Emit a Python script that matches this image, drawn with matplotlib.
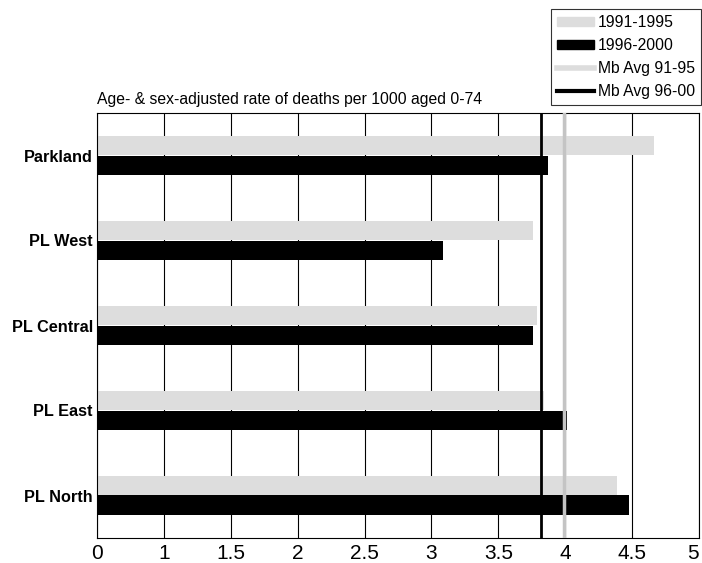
import matplotlib.pyplot as plt
from matplotlib.patches import Patch
from matplotlib.lines import Line2D
import numpy as np

plt.rcParams['font.family'] = ['Liberation Sans', 'DejaVu Sans']

regions = ["Parkland", "PL West", "PL Central", "PL East", "PL North"]
rate_91_95 = [4.66, 3.76, 3.79, 3.84, 4.39]
rate_96_00 = [3.87, 3.09, 3.76, 4.01, 4.48]
mb_avg_91_95 = 3.99
mb_avg_96_00 = 3.82

# axis starts at 0.5 but the first tick is labelled "0"
tick_pos = [0.5, 1, 1.5, 2, 2.5, 3, 3.5, 4, 4.5, 5]
tick_lab = ["0", "1", "1.5", "2", "2.5", "3", "3.5", "4", "4.5", "5"]

fig = plt.figure(figsize=(7.02, 5.63), dpi=100)
ax = fig.add_axes([97 / 702, 25 / 563, 602 / 702, 425 / 563])

y = np.arange(len(regions))
h = 0.235
ax.barh(y - h / 2, rate_91_95, height=h, color='#dddddd', zorder=2)
ax.barh(y + h / 2, rate_96_00, height=h, color='black', zorder=2)

ax.axvline(mb_avg_91_95, color='#c4c4c4', lw=2.5, zorder=3)
ax.axvline(mb_avg_96_00, color='black', lw=2, zorder=3)

ax.set_xlim(0.5, 5)
ax.set_ylim(len(regions) - 0.5, -0.5)
ax.set_xticks(tick_pos)
ax.set_xticklabels(tick_lab, fontsize=15)
ax.get_xticklabels()[-1].set_ha('right')
ax.set_yticks(y)
ax.set_yticklabels(regions, fontsize=11.7, fontweight='bold')
ax.tick_params(axis='x', length=0, pad=4)
ax.tick_params(axis='y', length=0, pad=3)
ax.grid(axis='x', color='black', lw=0.8, zorder=1)
ax.set_axisbelow(True)
for s in ax.spines.values():
    s.set_linewidth(0.8)

fig.text(97 / 702, 1 - 104 / 563, "Age- & sex-adjusted rate of deaths per 1000 aged 0-74",
         fontsize=11.3, ha='left', va='baseline')

handles = [Patch(color='#dddddd'), Patch(color='black'),
           Line2D([], [], color='#dddddd', lw=4), Line2D([], [], color='black', lw=3)]
labels = ["1991-1995", "1996-2000", "Mb Avg 91-95", "Mb Avg 96-00"]
leg = fig.legend(handles, labels, loc='upper right', bbox_to_anchor=(701 / 702, 1 - 9 / 563),
                 fontsize=11.3, frameon=True, fancybox=False, edgecolor='black',
                 handlelength=2.35, handleheight=0.5, handletextpad=0.25,
                 labelspacing=0.5, borderpad=0.4, borderaxespad=0)
leg.get_frame().set_linewidth(0.8)

fig.savefig("out.png", dpi=100)
